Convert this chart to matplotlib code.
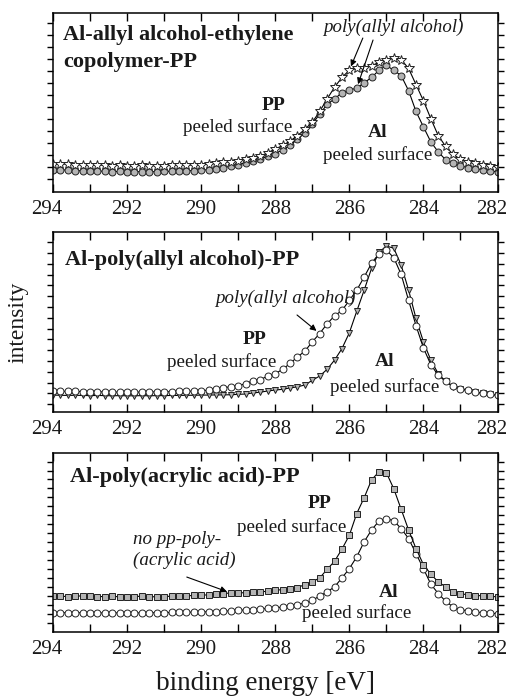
"""C1s XPS spectra of peeled Al / PP surfaces for three adhesion promoters."""

import matplotlib

matplotlib.use("Agg")
import matplotlib.pyplot as plt
from matplotlib.ticker import FixedLocator, MultipleLocator
from matplotlib.transforms import ScaledTranslation

plt.rcParams["font.family"] = ["Liberation Serif", "DejaVu Serif"]

ENERGY = [
    294.0, 293.8, 293.6, 293.4, 293.2, 293.0, 292.8, 292.6, 292.4, 292.2,
    292.0, 291.8, 291.6, 291.4, 291.2, 291.0, 290.8, 290.6, 290.4, 290.2,
    290.0, 289.8, 289.6, 289.4, 289.2, 289.0, 288.8, 288.6, 288.4, 288.2,
    288.0, 287.8, 287.6, 287.4, 287.2, 287.0, 286.8, 286.6, 286.4, 286.2,
    286.0, 285.8, 285.6, 285.4, 285.2, 285.0, 284.8, 284.6, 284.4, 284.2,
    284.0, 283.8, 283.6, 283.4, 283.2, 283.0, 282.8, 282.6, 282.4, 282.2,
    282.0,
]

# panel 1: Al-allyl alcohol-ethylene copolymer-PP
copoly_pp = [
    15.6, 15.4, 15.8, 15.3, 15.2, 15.0, 15.2, 14.9, 14.8, 15.0,
    14.8, 14.7, 14.9, 14.8, 14.7, 14.8, 14.9, 15.0, 15.0, 15.1,
    15.3, 15.5, 16.0, 16.5, 17.0, 17.4, 18.2, 19.0, 20.0, 22.0,
    24.0, 26.0, 28.5, 31.5, 35.0, 39.0, 45.0, 52.0, 58.5, 64.0,
    68.0, 69.0, 69.5, 70.5, 72.5, 74.0, 74.6, 74.0, 69.0, 60.0,
    51.0, 41.0, 31.5, 25.5, 21.0, 18.3, 16.6, 16.0, 15.2, 14.6,
    14.0,
]
copoly_al = [
    12.5, 12.2, 12.4, 12.0, 11.8, 11.6, 11.8, 11.5, 11.4, 11.5,
    11.3, 11.3, 11.4, 11.3, 11.4, 11.5, 11.5, 11.6, 11.8, 12.0,
    12.2, 12.5, 13.0, 13.5, 14.5, 15.3, 16.3, 17.3, 18.5, 20.0,
    21.5, 23.5, 26.0, 29.5, 33.0, 38.0, 43.5, 49.0, 52.0, 55.5,
    57.0, 58.0, 61.0, 64.0, 68.0, 70.7, 68.0, 65.0, 56.6, 45.0,
    36.4, 28.0, 22.4, 18.0, 16.0, 14.6, 13.6, 13.0, 12.5, 11.8,
    11.2,
]

# panel 2: Al-poly(allyl alcohol)-PP
paa_pp = [
    11.8, 11.6, 11.4, 11.5, 11.3, 11.2, 11.3, 11.1, 11.0, 11.1,
    11.0, 11.1, 11.0, 11.1, 11.2, 11.2, 11.3, 11.4, 11.5, 11.6,
    11.7, 12.2, 13.0, 13.5, 14.0, 14.5, 15.8, 17.4, 18.0, 20.0,
    21.3, 23.7, 27.0, 30.6, 33.8, 39.0, 43.6, 49.0, 53.4, 56.4,
    62.0, 67.7, 75.0, 82.6, 88.0, 90.0, 85.7, 76.4, 62.0, 48.0,
    35.6, 26.3, 20.4, 17.0, 14.5, 13.0, 12.2, 11.0, 10.4, 9.8,
    9.3,
]
paa_al = [
    9.4, 9.3, 9.2, 9.3, 9.2, 9.1, 9.2, 9.1, 9.0, 9.1,
    9.0, 9.0, 9.1, 9.0, 9.1, 9.1, 9.2, 9.2, 9.3, 9.3,
    9.4, 9.4, 9.5, 9.5, 9.6, 9.8, 10.0, 10.6, 11.0, 11.7,
    12.2, 12.6, 13.4, 14.0, 15.0, 17.6, 20.0, 23.7, 28.8, 35.2,
    44.0, 56.0, 67.7, 79.8, 88.7, 92.2, 91.0, 81.6, 67.7, 52.0,
    39.0, 28.8, 21.3, 17.0, 14.0, 12.6, 11.9, 11.1, 10.4, 9.8,
    9.3,
]

# panel 3: Al-poly(acrylic acid)-PP
pac_pp = [
    20.1, 20.0, 19.8, 20.0, 20.2, 20.0, 19.8, 19.8, 20.0, 19.6,
    19.6, 19.8, 20.0, 19.8, 19.6, 19.8, 20.0, 20.2, 20.2, 20.4,
    20.5, 20.8, 21.0, 21.5, 21.8, 21.8, 22.0, 22.2, 22.4, 22.8,
    23.3, 23.7, 24.3, 24.8, 26.5, 28.0, 30.2, 35.0, 39.5, 46.3,
    54.0, 66.2, 75.0, 85.0, 89.5, 89.0, 80.0, 68.5, 57.0, 46.6,
    37.7, 32.3, 28.0, 25.2, 22.4, 21.5, 20.7, 20.3, 20.3, 20.0,
    19.6,
]
pac_al = [
    10.8, 10.8, 10.7, 10.8, 10.7, 10.6, 10.7, 10.6, 10.6, 10.7,
    10.6, 10.6, 10.7, 10.7, 10.8, 10.8, 10.9, 10.9, 11.0, 11.1,
    11.2, 11.3, 11.4, 11.6, 11.8, 12.1, 12.3, 12.5, 12.8, 13.2,
    13.4, 14.0, 14.5, 15.3, 16.2, 17.7, 20.1, 22.4, 25.2, 30.2,
    35.4, 42.0, 50.4, 57.0, 62.0, 63.4, 62.1, 57.8, 52.2, 43.8,
    35.4, 26.7, 21.5, 17.2, 14.0, 12.5, 11.8, 11.2, 10.8, 10.4,
    10.3,
]

XTICKS = [294, 292, 290, 288, 286, 284, 282]
TXT = "#1a1a1a"
GREY = "#b4b4b4"


def style_axes(fig, ax, ytick_start, ytick_step):
    ax.set_xlim(294, 282)
    ax.set_ylim(0, 100)
    ax.set_xticks(XTICKS)
    ax.xaxis.set_minor_locator(MultipleLocator(1))
    ax.yaxis.set_major_locator(FixedLocator(
        [ytick_start + k * ytick_step for k in range(int((100 - ytick_start) / ytick_step) + 1)]))
    ax.set_yticklabels([])
    ax.tick_params(axis="x", which="both", direction="in", length=6, width=1.0,
                   top=True, labelsize=15, pad=6, labelcolor=TXT)
    ax.tick_params(axis="y", which="both", direction="out", length=4.5, width=1.0,
                   right=True)
    for side in ax.spines.values():
        side.set_linewidth(1.1)
    # the end labels sit a little to the left, as in the original figure
    shift = ScaledTranslation(-6 / 100, 0, fig.dpi_scale_trans)
    for tick in (ax.xaxis.get_major_ticks()[0], ax.xaxis.get_major_ticks()[-1]):
        tick.label1.set_transform(tick.label1.get_transform() + shift)


def line(ax, y, marker, face, ms=5.0):
    ax.plot(ENERGY, y, color="black", lw=0.8, marker=marker, ms=ms,
            mfc=face, mec="#222222", mew=0.7)


def label(ax, x, y, s, bold=False, italic=False, size=13.7, ha="center", va="center"):
    ax.text(x, y, s, transform=ax.transAxes, ha=ha, va=va, fontsize=size, color=TXT,
            fontweight="bold" if bold else "normal",
            fontstyle="italic" if italic else "normal")


def arrow(ax, xy, tail):
    ax.annotate("", xy=xy, xycoords="data", xytext=tail, textcoords="axes fraction",
                arrowprops=dict(arrowstyle="-|>", color="black", lw=0.8,
                                mutation_scale=9, shrinkA=0, shrinkB=3))


def main() -> None:
    fig = plt.figure(figsize=(5.11, 6.96), dpi=100)
    left, width = 53 / 511, 444.5 / 511
    ax1 = fig.add_axes([left, 1 - 192 / 696, width, 179 / 696])
    ax2 = fig.add_axes([left, 1 - 412 / 696, width, 180 / 696])
    ax3 = fig.add_axes([left, 1 - 632 / 696, width, 179 / 696])

    # panel 1
    line(ax1, copoly_al, "o", GREY)
    line(ax1, copoly_pp, "*", "white", ms=7)
    style_axes(fig, ax1, 7.1, 6.7)
    label(ax1, 0.0225, 0.849, "Al-allyl alcohol-ethylene", bold=True, size=16, ha="left", va="baseline")
    label(ax1, 0.0225, 0.700, "copolymer-PP", bold=True, size=16, ha="left", va="baseline")
    label(ax1, 0.607, 0.896, "poly(allyl alcohol)", italic=True, size=13.6, ha="left", va="baseline")
    arrow(ax1, (286.0, 68.0), (0.697, 0.86))
    arrow(ax1, (285.8, 58.0), (0.72, 0.849))
    label(ax1, 0.495, 0.486, "PP", bold=True, size=14)
    label(ax1, 0.416, 0.363, "peeled surface")
    label(ax1, 0.731, 0.335, "Al", bold=True, size=14)
    label(ax1, 0.731, 0.207, "peeled surface")

    # panel 2
    line(ax2, paa_al, "v", GREY)
    line(ax2, paa_pp, "o", "white")
    style_axes(fig, ax2, 4.3, 6.0)
    label(ax2, 0.027, 0.817, "Al-poly(allyl alcohol)-PP", bold=True, size=16, ha="left", va="baseline")
    label(ax2, 0.364, 0.606, "poly(allyl alcohol)", italic=True, size=13.6, ha="left", va="baseline")
    arrow(ax2, (286.8, 43.6), (0.549, 0.539))
    label(ax2, 0.454, 0.40, "PP", bold=True, size=14)
    label(ax2, 0.380, 0.278, "peeled surface")
    label(ax2, 0.747, 0.278, "Al", bold=True, size=14)
    label(ax2, 0.747, 0.139, "peeled surface")

    # panel 3
    line(ax3, pac_al, "o", "white")
    line(ax3, pac_pp, "s", GREY, ms=4.8)
    style_axes(fig, ax3, 5.2, 5.0)
    label(ax3, 0.038, 0.84, "Al-poly(acrylic acid)-PP", bold=True, size=16, ha="left", va="baseline")
    label(ax3, 0.600, 0.72, "PP", bold=True, size=14)
    label(ax3, 0.538, 0.587, "peeled surface")
    label(ax3, 0.18, 0.514, "no pp-poly-", italic=True, ha="left")
    label(ax3, 0.18, 0.402, "(acrylic acid)", italic=True, ha="left")
    arrow(ax3, (289.2, 21.8), (0.301, 0.307))
    label(ax3, 0.754, 0.223, "Al", bold=True, size=14)
    label(ax3, 0.684, 0.106, "peeled surface")

    fig.text(18 / 511, 1 - 322 / 696, "intensity", rotation=90, ha="center", va="center",
             fontsize=17, color=TXT)
    fig.text(265 / 511, 1 - 683 / 696, "binding energy [eV]", ha="center", va="center",
             fontsize=19.5, color=TXT)

    fig.savefig("out.png", dpi=100)
    plt.close(fig)


if __name__ == "__main__":
    main()
